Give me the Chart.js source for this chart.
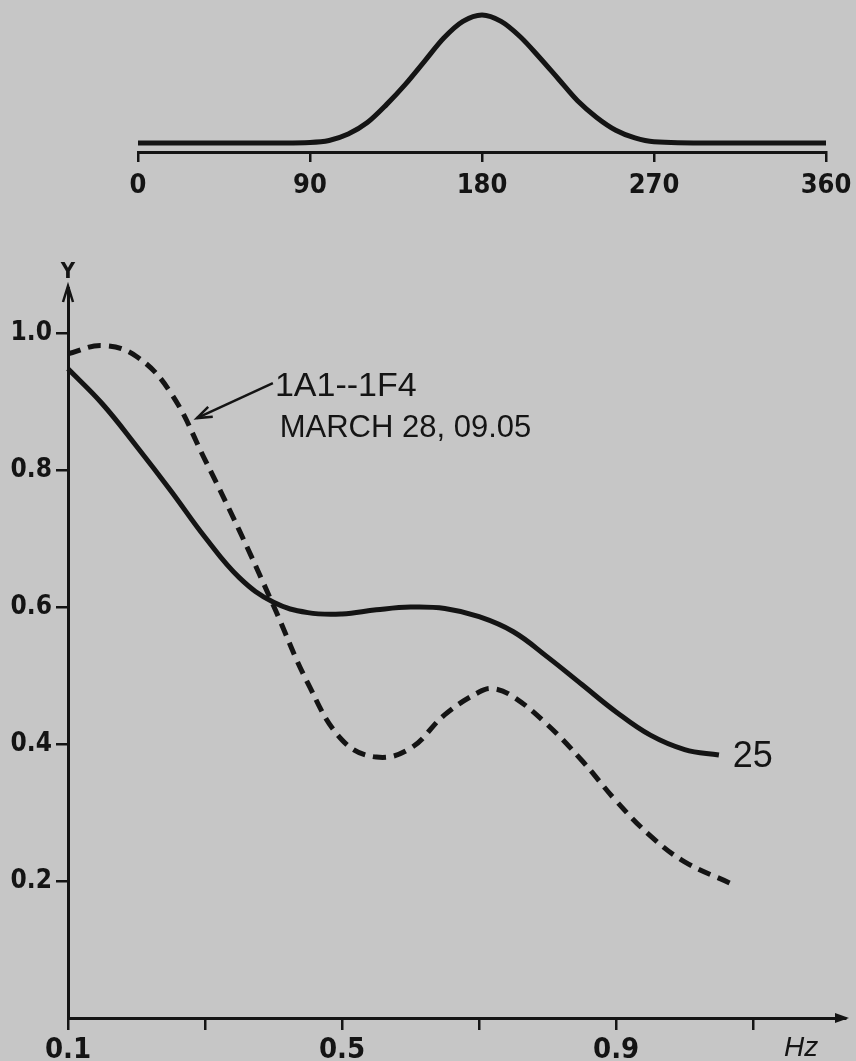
<!DOCTYPE html>
<html>
<head>
<meta charset="utf-8">
<script src="https://cdn.jsdelivr.net/npm/chart.js@4.4.1/dist/chart.umd.min.js"></script>
<style>
  html, body { margin: 0; padding: 0; background: #c6c6c6; }
  body { width: 856px; height: 1061px; position: relative; overflow: hidden; }
  #pulse { position: absolute; left: 0; top: 0; }
  #spectrum { position: absolute; left: 0; top: 230px; }
</style>
</head>
<body>
<canvas id="pulse" width="856" height="210"></canvas>
<canvas id="spectrum" width="856" height="831"></canvas>
<script>
// top strip: pulse shape over 0..360
const pulseAngle  = [0, 30, 60, 90, 100, 110, 120, 130, 140, 150, 160, 170, 180, 190, 200, 210, 220, 230, 240, 250, 260, 270, 300, 330, 360];
const pulseHeight = [0, 0, 0, 0.005, 0.02, 0.07, 0.16, 0.30, 0.46, 0.64, 0.82, 0.95, 1.0, 0.95, 0.83, 0.67, 0.50, 0.33, 0.20, 0.10, 0.04, 0.01, 0, 0, 0];
const pulseTicks  = [0, 90, 180, 270, 360];

// main plot: Y against Hz
const solidHz = [0.10, 0.15, 0.20, 0.25, 0.30, 0.35, 0.40, 0.45, 0.50, 0.55, 0.60, 0.65, 0.70, 0.75, 0.80, 0.85, 0.90, 0.95, 1.00, 1.05];
const solidY  = [0.948, 0.897, 0.835, 0.770, 0.702, 0.643, 0.607, 0.592, 0.590, 0.596, 0.600, 0.598, 0.586, 0.564, 0.527, 0.487, 0.447, 0.413, 0.392, 0.384];

const dashHz = [0.10, 0.15, 0.20, 0.25, 0.30, 0.35, 0.40, 0.45, 0.50, 0.55, 0.60, 0.65, 0.70, 0.72, 0.75, 0.80, 0.85, 0.90, 0.95, 1.00, 1.066];
const dashY  = [0.970, 0.982, 0.966, 0.913, 0.815, 0.712, 0.602, 0.489, 0.406, 0.381, 0.394, 0.443, 0.476, 0.481, 0.469, 0.428, 0.376, 0.317, 0.266, 0.228, 0.197];

const xTickValues = [0.1, 0.3, 0.5, 0.7, 0.9, 1.1];
const xTickLabels = ['0.1', '', '0.5', '', '0.9', ''];
const yTickValues = [0.2, 0.4, 0.6, 0.8, 1.0];
const yTickLabels = ['0.2', '0.4', '0.6', '0.8', '1.0'];

const noteLines = ['1A1--1F4', 'MARCH 28, 09.05'];
const curveLabel = '25';

const ink = '#141414';
const narrow = "'Liberation Sans Narrow', 'DejaVu Sans Condensed', 'Liberation Sans', sans-serif";
const plain = "'Liberation Sans', Arial, sans-serif";

const toPoints = (xs, ys) => xs.map((v, i) => ({ x: v, y: ys[i] }));

// ---- top chart ----
new Chart(document.getElementById('pulse'), {
  type: 'line',
  data: {
    datasets: [{
      data: toPoints(pulseAngle, pulseHeight),
      borderColor: ink,
      borderWidth: 5,
      pointRadius: 0,
      cubicInterpolationMode: 'monotone',
      fill: false,
      clip: 8
    }]
  },
  options: {
    responsive: false,
    animation: false,
    events: [],
    layout: { padding: { left: 138, right: 30, top: 15, bottom: 6 } },
    plugins: { legend: { display: false }, tooltip: { enabled: false } },
    scales: {
      x: {
        type: 'linear', min: 0, max: 360,
        afterBuildTicks: s => { s.ticks = pulseTicks.map(v => ({ value: v })); },
        // fixed height, and let the end labels hang past the axis ends
        afterFit: s => { s.height = 52; s.paddingLeft = 0; s.paddingRight = 0; },
        ticks: { color: ink, font: { family: narrow, size: 27, weight: 'bold' }, padding: 8, maxRotation: 0, autoSkip: false },
        grid: { drawOnChartArea: false, color: ink, lineWidth: 2.5, tickLength: 10 },
        border: { color: ink, width: 3 }
      },
      y: { display: false, min: -0.07, max: 1.0 }
    }
  }
});

// ---- main chart annotations ----
const notes = {
  id: 'notes',
  afterDraw(chart) {
    const { ctx, scales: { x, y } } = chart;
    ctx.save();
    ctx.fillStyle = ink;
    ctx.strokeStyle = ink;

    // axis arrows
    const ox = x.left, oy = y.bottom;
    ctx.lineWidth = 2.5;
    ctx.beginPath();
    ctx.moveTo(ox - 5, y.top + 14);
    ctx.lineTo(ox, y.top - 2);
    ctx.lineTo(ox + 5, y.top + 14);
    ctx.stroke();
    ctx.beginPath();
    ctx.moveTo(x.right + 4, oy);
    ctx.lineTo(x.right - 10, oy - 5);
    ctx.lineTo(x.right - 10, oy + 5);
    ctx.closePath();
    ctx.fill();

    // axis names
    ctx.font = "bold 22px " + narrow;
    ctx.textAlign = 'center';
    ctx.textBaseline = 'alphabetic';
    ctx.fillText('Y', ox, y.top - 10);
    ctx.font = "italic 28px " + plain;
    ctx.textAlign = 'left';
    ctx.fillText('Hz', x.getPixelForValue(1.145), oy + 38);

    // curve label
    ctx.font = "36px " + plain;
    ctx.fillText(curveLabel, x.getPixelForValue(1.070), y.getPixelForValue(0.366));

    // note with arrow to the dashed curve
    ctx.font = "34px " + plain;
    ctx.fillText(noteLines[0], x.getPixelForValue(0.402), y.getPixelForValue(0.909), 142);
    ctx.font = "31px " + plain;
    ctx.fillText(noteLines[1], x.getPixelForValue(0.409), y.getPixelForValue(0.848), 262);

    const tx = x.getPixelForValue(0.399), ty = y.getPixelForValue(0.927);
    const hx = x.getPixelForValue(0.288), hy = y.getPixelForValue(0.876);
    ctx.lineWidth = 2.5;
    ctx.beginPath();
    ctx.moveTo(tx, ty);
    ctx.lineTo(hx, hy);
    ctx.stroke();
    const ang = Math.atan2(ty - hy, tx - hx);
    ctx.beginPath();
    ctx.moveTo(hx + 16 * Math.cos(ang - 0.35), hy + 16 * Math.sin(ang - 0.35));
    ctx.lineTo(hx, hy);
    ctx.lineTo(hx + 16 * Math.cos(ang + 0.35), hy + 16 * Math.sin(ang + 0.35));
    ctx.stroke();
    ctx.restore();
  }
};

// ---- main chart ----
new Chart(document.getElementById('spectrum'), {
  type: 'line',
  data: {
    datasets: [
      {
        data: toPoints(solidHz, solidY),
        borderColor: ink,
        borderWidth: 5,
        pointRadius: 0,
        tension: 0.4,
        fill: false,
        clip: 8
      },
      {
        data: toPoints(dashHz, dashY),
        borderColor: ink,
        borderWidth: 5,
        borderDash: [13, 8],
        pointRadius: 0,
        tension: 0.4,
        fill: false,
        clip: 8
      }
    ]
  },
  options: {
    responsive: false,
    animation: false,
    events: [],
    layout: { padding: { left: 0, right: 11, top: 58, bottom: 0 } },
    plugins: { legend: { display: false }, tooltip: { enabled: false } },
    scales: {
      x: {
        type: 'linear', min: 0.1, max: 1.234,
        afterBuildTicks: s => { s.ticks = xTickValues.map(v => ({ value: v })); },
        afterFit: s => { s.height = 43; },
        ticks: {
          color: ink, font: { family: narrow, size: 29, weight: 'bold' }, padding: 3,
          maxRotation: 0, autoSkip: false,
          callback: (v, i) => xTickLabels[i]
        },
        grid: { drawOnChartArea: false, color: ink, lineWidth: 2.5, tickLength: 12 },
        border: { color: ink, width: 3 }
      },
      y: {
        type: 'linear', min: 0, max: 1.066,
        afterBuildTicks: s => { s.ticks = yTickValues.map(v => ({ value: v })); },
        afterFit: s => { s.width = 68; },
        ticks: {
          color: ink, font: { family: narrow, size: 26, weight: 'bold' }, padding: 4,
          autoSkip: false,
          callback: (v, i) => yTickLabels[i]
        },
        grid: { drawOnChartArea: false, color: ink, lineWidth: 2.5, tickLength: 12 },
        border: { color: ink, width: 3 }
      }
    }
  },
  plugins: [notes]
});
</script>
</body>
</html>
